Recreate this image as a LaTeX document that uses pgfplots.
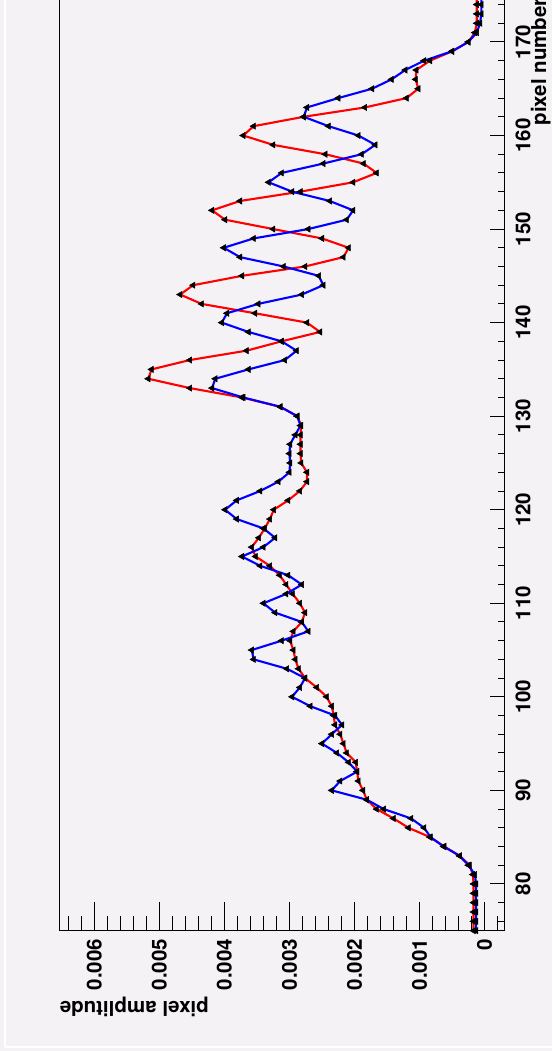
\documentclass[border=0pt]{standalone}
\usepackage{pgfplots}
\pgfplotsset{compat=1.18}
\usepackage{pgfplotstable}
\usepackage{fontspec}
\setmainfont{TeX Gyre Heros}
\definecolor{bg}{RGB}{245,242,245}
\definecolor{rootred}{RGB}{255,0,0}
\definecolor{rootblue}{RGB}{0,0,255}

% p = pixel number, r = red series, b = blue series (amplitude in units of 0.001)
\pgfplotstableread{
p r b
75 0.17 0.13
76 0.17 0.13
77 0.17 0.13
78 0.17 0.13
79 0.17 0.13
80 0.17 0.13
81 0.18 0.15
82 0.23 0.25
83 0.38 0.385
84 0.62 0.63
85 0.84 0.83
86 1.17 0.93
87 1.40 1.13
88 1.66 1.55
89 1.81 1.81
90 1.87 2.35
91 1.94 2.22
92 1.96 1.96
93 1.98 2.09
94 2.12 2.27
95 2.17 2.50
96 2.22 2.35
97 2.30 2.19
98 2.32 2.30
99 2.35 2.68
100 2.43 2.96
101 2.58 2.84
102 2.76 2.76
103 2.86 3.04
104 2.91 3.55
105 2.94 3.58
106 2.99 3.12
107 2.94 2.71
108 2.81 2.81
109 2.76 3.22
110 2.84 3.40
111 2.95 3.05
112 3.05 2.81
113 3.15 3.02
114 3.30 3.45
115 3.52 3.73
116 3.58 3.40
117 3.47 3.22
118 3.38 3.40
119 3.30 3.81
120 3.24 3.99
121 3.02 3.81
122 2.84 3.45
123 2.73 3.17
124 2.73 3.00
125 2.82 2.99
126 2.83 3.00
127 2.83 2.99
128 2.83 2.91
129 2.82 2.83
130 2.88 2.88
131 3.14 3.14
132 3.73 3.71
133 4.53 4.19
134 5.17 4.14
135 5.12 3.63
136 4.53 3.07
137 3.66 2.89
138 3.12 3.12
139 2.53 3.63
140 2.73 4.04
141 3.53 3.96
142 4.35 3.48
143 4.68 2.81
144 4.48 2.48
145 3.73 2.55
146 2.76 3.09
147 2.17 3.76
148 2.09 4.01
149 2.50 3.55
150 3.25 2.71
151 3.99 2.12
152 4.19 2.02
153 3.76 2.38
154 2.83 2.96
155 2.02 3.32
156 1.66 3.12
157 1.86 2.48
158 2.45 1.89
159 3.25 1.68
160 3.71 1.94
161 3.55 2.40
162 2.78 2.78
163 1.84 2.73
164 1.20 2.25
165 1.02 1.73
166 1.06 1.43
167 1.05 1.22
168 0.84 0.93
169 0.50 0.50
170 0.25 0.25
171 0.15 0.12
172 0.12 0.07
173 0.12 0.05
174 0.12 0.05
175 0.12 0.05
}\data

\begin{document}
\begin{tikzpicture}
\path[use as bounding box] (0,0) rectangle (552pt,1051pt);
\clip (0,0) rectangle (552pt,1051pt);
\fill[bg] (0,0) rectangle (552pt,1051pt);
\draw[white, line width=2pt] (5pt,4pt) -- (5pt,1052pt);
\draw[white, line width=2pt] (5pt,4pt) -- (553pt,4pt);
\begin{axis}[
  at={(59.5pt,120.3pt)}, anchor=south west,
  scale only axis, width=444.8pt, height=935.5pt,
  x dir=reverse,
  xmin=-0.303, xmax=6.535, ymin=75, ymax=175,
  xtick=\empty,
  ytick={80,90,...,170},
  yticklabels={80,90,100,110,120,130,140,150,160,170},
  minor ytick={76,78,...,174},
  ytick pos=right, yticklabel pos=right,
  major tick length=14pt, minor tick length=6.5pt,
  axis line style={line width=1.2pt, black},
  tick style={line width=1pt, black},
  yticklabel style={rotate=90, anchor=north, inner sep=0pt,
    font=\fontsize{20.5}{24}\selectfont\bfseries},
  yticklabel shift=11pt,
  clip=true,
]
\addplot[rootred, line width=2.1pt, mark=triangle*, mark size=3.6pt,
  mark options={black, fill=black, rotate=90, solid, line width=0.5pt}]
  table[x=r, y=p]{\data};
\addplot[rootblue, line width=2.1pt, mark=triangle*, mark size=3.6pt,
  mark options={black, fill=black, rotate=90, solid, line width=0.5pt}]
  table[x=b, y=p]{\data};
\end{axis}
\begin{axis}[
  at={(59.5pt,120.3pt)}, anchor=south west,
  scale only axis, width=444.8pt, height=935.5pt,
  x dir=reverse,
  xmin=-0.303, xmax=6.535, ymin=75, ymax=175,
  ytick=\empty,
  xtick={0,1,2,3,4,5,6},
  xticklabels={0,0.001,0.002,0.003,0.004,0.005,0.006},
  minor xtick={-0.2,0,...,6.4},
  xtick pos=bottom, xticklabel pos=bottom,
  major tick length=29pt, minor tick length=15pt,
  axis line style={line width=1.2pt, black},
  tick style={line width=1pt, black},
  xticklabel style={rotate=90, anchor=east, inner sep=0pt,
    font=\fontsize{20.5}{24}\selectfont\bfseries},
  xticklabel shift=8pt,
]
\end{axis}
\node[rotate=180, anchor=base east, inner sep=0pt,
  font=\fontsize{20.5}{24}\selectfont\bfseries] at (59.5pt,49pt) {pixel amplitude};
\node[rotate=90, anchor=base east, inner sep=0pt,
  font=\fontsize{20.5}{24}\selectfont\bfseries] at (546pt,1053pt) {pixel number};
\end{tikzpicture}
\end{document}
